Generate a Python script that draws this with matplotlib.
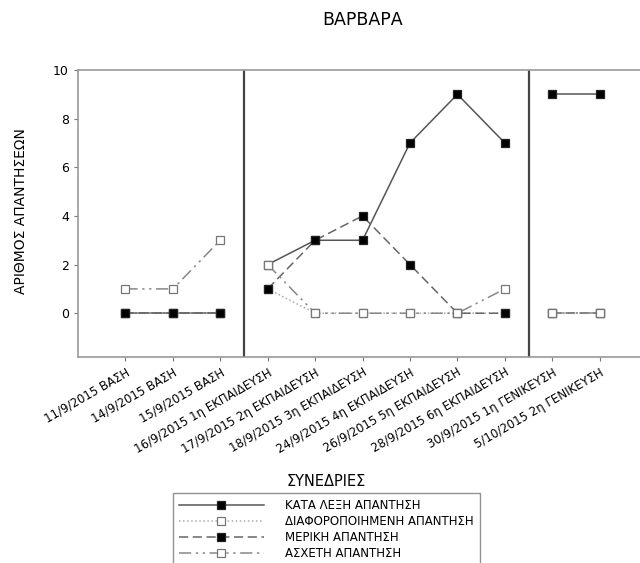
import matplotlib
matplotlib.use("Agg")
import matplotlib.pyplot as plt
import numpy as np

sessions = [
    "11/9/2015 ΒΑΣΗ", "14/9/2015 ΒΑΣΗ", "15/9/2015 ΒΑΣΗ",
    "16/9/2015 1η ΕΚΠΑΙΔΕΥΣΗ", "17/9/2015 2η ΕΚΠΑΙΔΕΥΣΗ",
    "18/9/2015 3η ΕΚΠΑΙΔΕΥΣΗ", "24/9/2015 4η ΕΚΠΑΙΔΕΥΣΗ",
    "26/9/2015 5η ΕΚΠΑΙΔΕΥΣΗ", "28/9/2015 6η ΕΚΠΑΙΔΕΥΣΗ",
    "30/9/2015 1η ΓΕΝΙΚΕΥΣΗ", "5/10/2015 2η ΓΕΝΙΚΕΥΣΗ",
]
# sessions per phase: baseline, training, generalisation
phase_sizes = [3, 6, 2]

kata_lexi = [0, 0, 0, 2, 3, 3, 7, 9, 7, 9, 9]
diaforopoiimeni = [0, 0, 0, 1, 0, 0, 0, 0, 0, 0, 0]
meriki = [0, 0, 0, 1, 3, 4, 2, 0, 0, 0, 0]
asxeti = [1, 1, 3, 2, 0, 0, 0, 0, 1, 0, 0]

series = [
    ("ΚΑΤΑ ΛΕΞΗ ΑΠΑΝΤΗΣΗ", kata_lexi, "-", "black", "#555555"),
    ("ΔΙΑΦΟΡΟΠΟΙΗΜΕΝΗ ΑΠΑΝΤΗΣΗ", diaforopoiimeni, ":", "white", "#aaaaaa"),
    ("ΜΕΡΙΚΗ ΑΠΑΝΤΗΣΗ", meriki, (0, (6, 3)), "black", "#666666"),
    ("ΑΣΧΕΤΗ ΑΠΑΝΤΗΣΗ", asxeti, (0, (8, 3, 1.5, 3, 1.5, 3)), "white", "#888888"),
]

plt.rcParams["font.family"] = ["DejaVu Sans"]

fig = plt.figure(figsize=(6.4, 5.63), dpi=100)
ax = fig.add_axes([78 / 640, 1 - 357 / 563, 1 - 78 / 640, (357 - 70) / 563])

x = np.arange(len(sessions))
bounds = np.cumsum([0] + phase_sizes)
handles = []
for name, vals, ls, face, lc in series:
    vals = np.array(vals, dtype=float)
    edge = "#222222" if face == "black" else "#777777"
    style = dict(linestyle=ls, color=lc, lw=1.1, marker="s", ms=5.5,
                 mfc=face, mec=edge, mew=0.9)
    # lines are broken between phases
    for a, b in zip(bounds[:-1], bounds[1:]):
        ax.plot(x[a:b], vals[a:b], **style)
    h, = ax.plot([], [], **style)
    handles.append(h)

for b in bounds[1:-1]:
    ax.axvline(b - 0.5, color="#444444", lw=1.6)

ax.set_xlim(-1, 10.85)
ax.set_ylim(-1.8, 10)
ax.set_yticks([0, 2, 4, 6, 8, 10])
ax.set_xticks(x)
ax.set_xticklabels(sessions, rotation=30, ha="right", rotation_mode="anchor", fontsize=8.5)
ax.tick_params(axis="y", labelsize=9, length=3, color="#777777")
ax.tick_params(axis="x", length=3, color="#777777")
ax.spines["right"].set_visible(False)
for s in ["left", "bottom", "top"]:
    ax.spines[s].set_color("#999999")
    ax.spines[s].set_linewidth(1.2)

fig.text(21 / 640, 1 - 211 / 563, "ΑΡΙΘΜΟΣ ΑΠΑΝΤΗΣΕΩΝ", rotation=90,
         ha="center", va="center", fontsize=10)
fig.text(363 / 640, 1 - 20 / 563, "ΒΑΡΒΑΡΑ", ha="center", va="center", fontsize=12.5)
fig.text(326 / 640, 1 - 481 / 563, "ΣΥΝΕΔΡΙΕΣ", ha="center", va="center", fontsize=10.5)

leg = fig.legend(handles, [s[0] for s in series],
                 loc="upper left", bbox_to_anchor=(173 / 640, 1 - 493 / 563),
                 borderaxespad=0, fontsize=8.5, handlelength=7.2, frameon=True,
                 fancybox=False, borderpad=0.5, labelspacing=0.25, handletextpad=1.8)
leg.get_frame().set_edgecolor("#777777")
leg.get_frame().set_linewidth(1.0)

fig.savefig("out.png", dpi=100)
